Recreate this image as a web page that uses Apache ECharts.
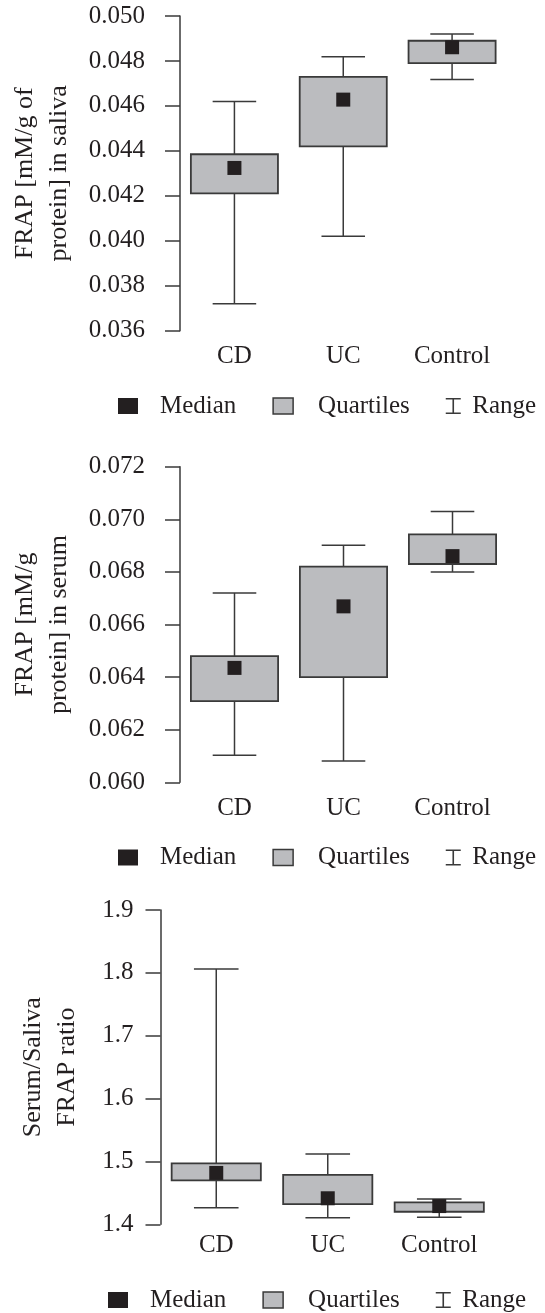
<!DOCTYPE html>
<html>
<head>
<meta charset="utf-8">
<script src="https://cdn.jsdelivr.net/npm/echarts@6/dist/echarts.min.js"></script>
<style>
html,body{margin:0;padding:0;background:#fff;}
#chart{width:545px;height:1313px;}
</style>
</head>
<body>
<div id="chart"></div>
<script>
const categories = ['CD', 'UC', 'Control'];

// Panel 1: FRAP in saliva
const salivaMin    = [0.0372, 0.0402, 0.04718];
const salivaQ1     = [0.04211, 0.0442, 0.0479];
const salivaMedian = [0.04324, 0.04628, 0.04861];
const salivaQ3     = [0.04385, 0.04729, 0.0489];
const salivaMax    = [0.0462, 0.04819, 0.0492];
const salivaAxis   = {min: 0.036, max: 0.050, interval: 0.002, decimals: 3};

// Panel 2: FRAP in serum
const serumMin    = [0.06103, 0.06081, 0.0680];
const serumQ1     = [0.06309, 0.0640, 0.0683];
const serumMedian = [0.06435, 0.06669, 0.0686];
const serumQ3     = [0.0648, 0.0682, 0.06943];
const serumMax    = [0.0672, 0.06901, 0.0703];
const serumAxis   = {min: 0.060, max: 0.072, interval: 0.002, decimals: 3};

// Panel 3: Serum/Saliva ratio
const ratioMin    = [1.4265, 1.4106, 1.4112];
const ratioQ1     = [1.470, 1.432, 1.420];
const ratioMedian = [1.4817, 1.4414, 1.429];
const ratioQ3     = [1.497, 1.4785, 1.435];
const ratioMax    = [1.806, 1.512, 1.4403];
const ratioAxis   = {min: 1.4, max: 1.9, interval: 0.1, decimals: 1};

const yNames = ['FRAP [mM/g of\nprotein] in saliva', 'FRAP [mM/g\nprotein] in serum', 'Serum/Saliva\nFRAP ratio'];

const FONT = "'Liberation Serif','Times New Roman',serif";
const TXT = '#231f20';
const LINE = '#3a3a3a';
const BOXFILL = '#bbbcbf';
const MEDFILL = '#231f20';

const panels = [
  {min: salivaMin, q1: salivaQ1, med: salivaMedian, q3: salivaQ3, max: salivaMax, axis: salivaAxis,
   grid: {left: 172, top: 16, width: 334.5, height: 314.7}, labelMargin: 35, nameGap: 104, xMargin: 13,
   legend: {left: 118, top: 393.5}},
  {min: serumMin, q1: serumQ1, med: serumMedian, q3: serumQ3, max: serumMax, axis: serumAxis,
   grid: {left: 172.5, top: 466.7, width: 334.5, height: 315.6}, labelMargin: 35, nameGap: 104, xMargin: 14,
   legend: {left: 118, top: 845}},
  {min: ratioMin, q1: ratioQ1, med: ratioMedian, q3: ratioQ3, max: ratioMax, axis: ratioAxis,
   grid: {left: 160.5, top: 910, width: 334.5, height: 314.3}, labelMargin: 27, nameGap: 76, xMargin: 9,
   legend: {left: 108, top: 1287.5}}
];

function rangeItem(params, api) {
  const x = api.value(0);
  const lo = api.coord([x, api.value(1)]);
  const hi = api.coord([x, api.value(2)]);
  const half = api.size([1, 0])[0] * 0.2;
  const style = {stroke: LINE, lineWidth: 1.5, fill: null};
  return {type: 'group', children: [
    {type: 'line', shape: {x1: lo[0], y1: lo[1], x2: hi[0], y2: hi[1]}, style: style},
    {type: 'line', shape: {x1: hi[0] - half, y1: hi[1], x2: hi[0] + half, y2: hi[1]}, style: style},
    {type: 'line', shape: {x1: lo[0] - half, y1: lo[1], x2: lo[0] + half, y2: lo[1]}, style: style}
  ]};
}
function boxItem(params, api) {
  const x = api.value(0);
  const a = api.coord([x, api.value(1)]);
  const b = api.coord([x, api.value(2)]);
  const w = api.size([1, 0])[0] * 0.8;
  return {type: 'rect', shape: {x: a[0] - w / 2, y: b[1], width: w, height: a[1] - b[1]},
    style: {fill: BOXFILL, stroke: LINE, lineWidth: 1.8}};
}
function medianItem(params, api) {
  const p = api.coord([api.value(0), api.value(1)]);
  const s = 14;
  return {type: 'rect', shape: {x: p[0] - s / 2, y: p[1] - s / 2, width: s, height: s},
    style: {fill: MEDFILL}};
}

const grids = [], xAxes = [], yAxes = [], series = [], legends = [];
panels.forEach((p, i) => {
  grids.push(Object.assign({containLabel: false}, p.grid));
  xAxes.push({
    type: 'category', gridIndex: i, data: categories,
    axisLine: {show: false}, axisTick: {show: false}, splitLine: {show: false},
    axisLabel: {fontFamily: FONT, fontSize: 25, color: TXT, margin: p.xMargin}
  });
  yAxes.push({
    type: 'value', gridIndex: i, min: p.axis.min, max: p.axis.max, interval: p.axis.interval,
    name: yNames[i], nameLocation: 'middle', nameGap: p.nameGap, nameRotate: 90,
    nameTextStyle: {fontFamily: FONT, fontSize: 26, color: TXT, lineHeight: 34},
    axisLine: {show: true, lineStyle: {color: LINE, width: 1.5}},
    axisTick: {show: true, length: 15, lineStyle: {color: LINE, width: 1.5}},
    splitLine: {show: false},
    axisLabel: {fontFamily: FONT, fontSize: 25, color: TXT, margin: p.labelMargin,
      formatter: v => v.toFixed(p.axis.decimals)}
  });
  series.push({
    name: 'Range', type: 'custom', xAxisIndex: i, yAxisIndex: i, z: 2,
    renderItem: rangeItem, encode: {x: 0, y: [1, 2]},
    data: categories.map((c, k) => [k, p.min[k], p.max[k]])
  });
  series.push({
    name: 'Quartiles', type: 'custom', xAxisIndex: i, yAxisIndex: i, z: 3,
    renderItem: boxItem, encode: {x: 0, y: [1, 2]},
    data: categories.map((c, k) => [k, p.q1[k], p.q3[k]])
  });
  series.push({
    name: 'Median', type: 'custom', xAxisIndex: i, yAxisIndex: i, z: 4,
    renderItem: medianItem, encode: {x: 0, y: 1},
    data: categories.map((c, k) => [k, p.med[k]])
  });
  legends.push({
    left: p.legend.left, top: p.legend.top, orient: 'horizontal', padding: 0,
    itemWidth: 20, itemHeight: 16, itemGap: 36, selectedMode: false,
    textStyle: {fontFamily: FONT, fontSize: 25, color: TXT},
    data: [
      {name: 'Median', icon: 'rect', itemStyle: {color: MEDFILL, borderWidth: 0},
       textStyle: {padding: [0, 0, 0, 17]}},
      {name: 'Quartiles', icon: 'rect', itemStyle: {color: BOXFILL, borderColor: LINE, borderWidth: 1.5},
       textStyle: {padding: [0, 0, 0, 20]}},
      {name: 'Range', icon: 'path://M0,0H15V1.6H8.3V14.4H15V16H0V14.4H6.7V1.6H0Z',
       itemStyle: {color: LINE, borderWidth: 0}, textStyle: {padding: [0, 0, 0, 4]}}
    ]
  });
});

const chart = echarts.init(document.getElementById('chart'), null, {renderer: 'canvas'});
chart.setOption({
  backgroundColor: '#ffffff',
  animation: false,
  grid: grids, xAxis: xAxes, yAxis: yAxes, series: series, legend: legends
});
</script>
</body>
</html>
